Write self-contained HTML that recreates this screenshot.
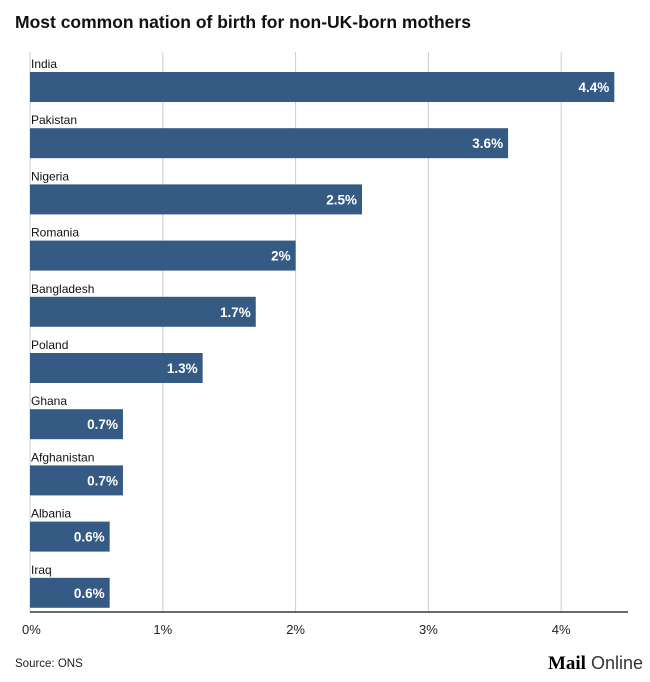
<!DOCTYPE html>
<html><head><meta charset="utf-8"><style>
body{margin:0;background:#fff;font-family:"Liberation Sans",sans-serif;}
svg text{font-family:"Liberation Sans",sans-serif;}
</style></head><body>
<svg width="650" height="677">
<text x="15" y="28" font-size="17.5" font-weight="bold" fill="#111">Most common nation of birth for non-UK-born mothers</text>
<g id="grid"></g><g id="bars"></g>
<line x1="30" x2="628" y1="612" y2="612" stroke="#111" stroke-width="1.2"/>
<g id="ticks"></g>
<text x="15" y="667" font-size="11.5" fill="#222">Source: ONS</text>
<text x="643" y="669" text-anchor="end" font-size="19"><tspan font-family="Liberation Serif" font-weight="bold" fill="#000">Mail</tspan><tspan fill="#333" font-size="18"> Online</tspan></text>
</svg>
<script>
const categories=["India","Pakistan","Nigeria","Romania","Bangladesh","Poland","Ghana","Afghanistan","Albania","Iraq"];
const values=[4.4,3.6,2.5,2,1.7,1.3,0.7,0.7,0.6,0.6];
const valueLabels=["4.4%","3.6%","2.5%","2%","1.7%","1.3%","0.7%","0.7%","0.6%","0.6%"];
const tickValues=[0,1,2,3,4];
const tickLabels=["0%","1%","2%","3%","4%"];
const NS="http://www.w3.org/2000/svg";
const x=v=>30+v*132.8;
const y=i=>72+i*56.2;
function mk(t,a,p){const e=document.createElementNS(NS,t);for(const k in a)e.setAttribute(k,a[k]);p.appendChild(e);return e;}
const grid=document.getElementById('grid'),bars=document.getElementById('bars'),ticks=document.getElementById('ticks');
tickValues.forEach((v,i)=>{
 const l=mk('line',{x1:x(v),x2:x(v),y1:52,y2:612,stroke:'#ccc','stroke-width':1},grid);
 
 
 const t=mk('text',{x:x(v)+(i==0?-8:0),y:634,'font-size':13,fill:'#222','text-anchor':i==0?'start':'middle'},ticks);
 t.textContent=tickLabels[i];
 
 
});
categories.forEach((c,i)=>{
 const lb=mk('text',{x:31,y:y(i)-4,'font-size':12,fill:'#111'},bars);
 lb.textContent=c;
 
 
 const r=mk('rect',{x:x(0),y:y(i),width:x(values[i])-x(0),height:30,fill:'#355a83'},bars);
 
 
 const v=mk('text',{x:x(values[i])-5,y:y(i)+20,'font-size':13.5,'font-weight':'bold',fill:'#fff','text-anchor':'end'},bars);
 v.textContent=valueLabels[i];
 
 
});
</script>
</body></html>
